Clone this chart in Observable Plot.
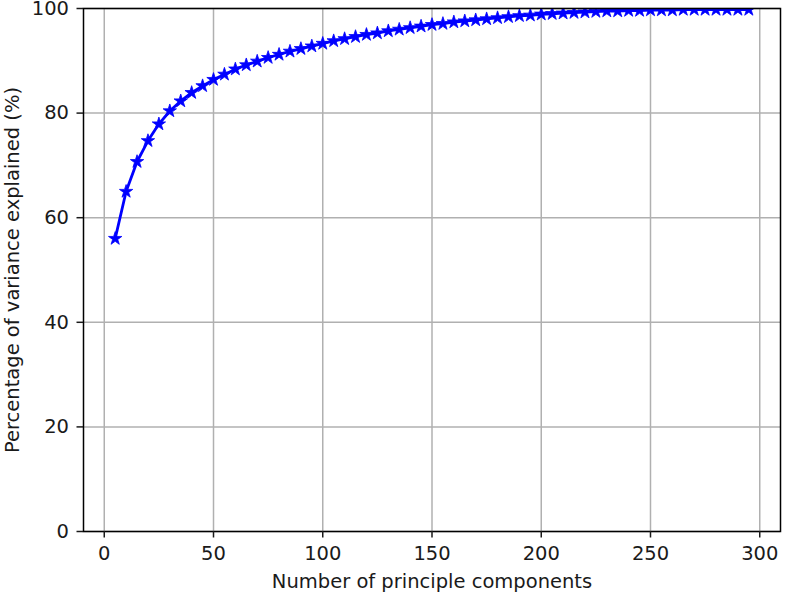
<!DOCTYPE html>
<html>
<head>
<meta charset="utf-8">
<script src="https://cdn.jsdelivr.net/npm/d3@7"></script>
<script src="https://cdn.jsdelivr.net/npm/@observablehq/plot@0.6"></script>
<style>
  html, body { margin: 0; padding: 0; background: #fff; }
  #chart svg { display: block; }
</style>
</head>
<body>
<div id="chart"></div>
<script>
const components = [5,10,15,20,25,30,35,40,45,50,55,60,65,70,75,80,85,90,95,100,
  105,110,115,120,125,130,135,140,145,150,155,160,165,170,175,180,185,190,195,200,
  205,210,215,220,225,230,235,240,245,250,255,260,265,270,275,280,285,290,295];
const variance = [56.0,65.0,70.7,74.7,77.9,80.4,82.3,83.9,85.2,86.4,87.4,88.4,89.2,89.9,90.6,91.2,91.8,92.3,92.8,93.3,
  93.8,94.2,94.6,95.0,95.3,95.7,96.0,96.3,96.6,96.9,97.1,97.4,97.6,97.8,98.0,98.2,98.4,98.6,98.7,98.9,
  99.0,99.1,99.2,99.3,99.4,99.5,99.5,99.6,99.6,99.7,99.7,99.7,99.8,99.8,99.8,99.8,99.8,99.8,99.8];
const xTicks = [0,50,100,150,200,250,300];
const yTicks = [0,20,40,60,80,100];
const xLabel = "Number of principle components";
const yLabel = "Percentage of variance explained (%)";

const data = components.map((c, i) => ({c, v: variance[i]}));

const chart = Plot.plot({
  width: 786,
  height: 592,
  marginLeft: 83,
  marginRight: 6,
  marginTop: 8,
  marginBottom: 61,
  style: {fontFamily: "DejaVu Sans", fontSize: "19.5px", background: "#fff", color: "#1a1a1a"},
  x: {domain: [-9.5, 309.5]},
  y: {domain: [0, 100]},
  marks: [
    Plot.gridX(xTicks, {stroke: "#b0b0b0", strokeOpacity: 1, strokeWidth: 1.5}),
    Plot.gridY(yTicks, {stroke: "#b0b0b0", strokeOpacity: 1, strokeWidth: 1.5}),
    Plot.line(data, {x: "c", y: "v", stroke: "#0000ff", strokeWidth: 2.8, clip: true}),
    Plot.dot(data, {x: "c", y: "v", symbol: "star", r: 4.2, fill: "#0000ff", stroke: "#0000ff", strokeWidth: 0.8, clip: true}),
    Plot.frame({stroke: "#000", strokeWidth: 1.5}),
    Plot.axisX(xTicks, {tickSize: 6.5, tickPadding: 8, strokeWidth: 1.5, fontSize: 19.5,
      label: xLabel, labelAnchor: "center", labelArrow: "none", labelOffset: 56}),
    Plot.axisY(yTicks, {tickSize: 6.5, tickPadding: 8, strokeWidth: 1.5, fontSize: 19.5,
      label: yLabel, labelAnchor: "center", labelArrow: "none", labelOffset: 78})
  ]
});
document.getElementById("chart").appendChild(chart);
</script>
</body>
</html>
